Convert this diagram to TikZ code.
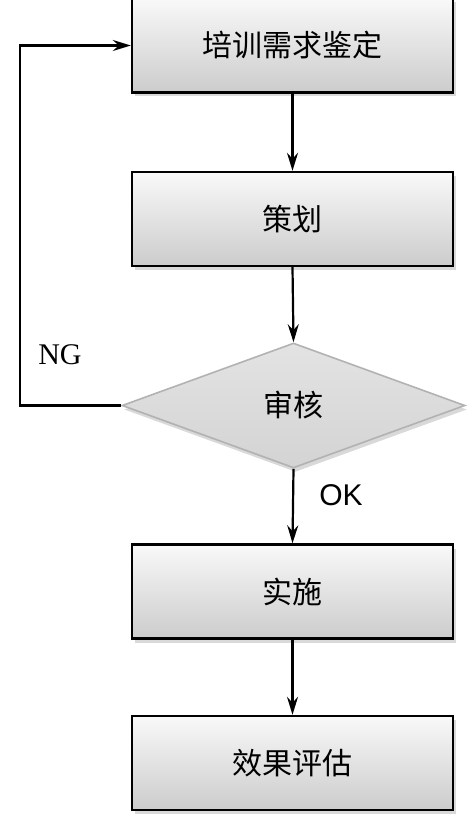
\documentclass[tikz,border=0pt]{standalone}
\usepackage{fontspec}
\setmainfont{Liberation Serif}
\newfontfamily\cjk{Noto Sans CJK SC}
\newfontfamily\okfont{Liberation Sans}
\usetikzlibrary{shapes.geometric,shadows,arrows.meta}
\begin{document}
\begin{tikzpicture}[x=1pt,y=-1pt,
  stepbox/.style={rectangle, draw=black, line width=2.4pt,
    minimum width=321pt, minimum height=94pt,
    top color=gray!5, bottom color=gray!40,
    drop shadow={shadow xshift=3pt, shadow yshift=-4pt, opacity=0.3, fill=gray},
    font=\cjk\fontsize{30}{34}\selectfont},
  decbox/.style={diamond, draw=gray!60, line width=1.6pt,
    minimum width=343pt, minimum height=125pt, aspect=2.744, inner sep=0pt,
    top color=gray!22, bottom color=gray!34,
    drop shadow={shadow xshift=2pt, shadow yshift=-4pt, opacity=0.3, fill=gray},
    font=\cjk\fontsize{30}{34}\selectfont},
  arr/.style={draw=black, line width=2.2pt, -{Stealth[length=18pt,width=11pt,inset=6pt]}},
  lbl/.style={font=\fontsize{30}{34}\selectfont, inner sep=0pt}
]
\useasboundingbox (0,0) rectangle (475,832);
\node[stepbox] (b1) at (292.5,45.5) {培训需求鉴定};
\node[stepbox] (b2) at (292.5,219) {策划};
\node[decbox] (d) at (293.5,405.5) {审核};
\node[stepbox] (b4) at (292.5,591.5) {实施};
\node[stepbox] (b5) at (292.5,763) {效果评估};
\coordinate (fb) at (20,405.5);
\draw[arr] (b1.south) -- (b2.north);
\draw[arr] (b2.south) -- (d.north);
\draw[arr] (d.south) -- (b4.north);
\draw[arr] (b4.south) -- (b5.north);
\draw[arr] (d.west) -- (fb) |- (b1.west);
\node[lbl] (ng) at (60,355) {NG};
\node[lbl, font=\okfont\fontsize{30}{34}\selectfont] (ok) at (341,495.5) {OK};
\end{tikzpicture}
\end{document}
